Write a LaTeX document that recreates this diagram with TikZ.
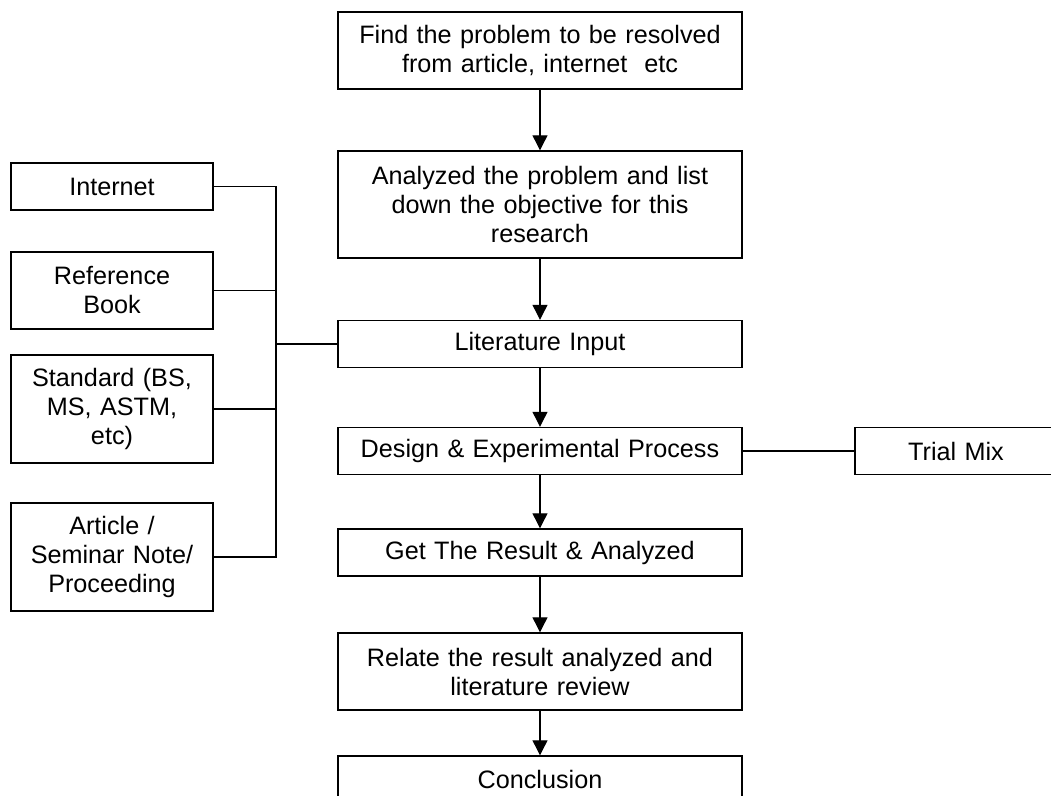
\documentclass[tikz,border=0pt]{standalone}
\usepackage{fontspec}
\setmainfont{Liberation Sans}
\usetikzlibrary{arrows.meta,positioning}
\tikzset{
	box/.style={draw,rectangle,align=center,line width=0.7pt,inner sep=0pt,font=\fontsize{12.6}{14.5}\selectfont},
	mainbox/.style={box,text width=202pt,minimum height=#1},
	sidebox/.style={box,text width=101pt,minimum height=#1},
	>={Triangle[width=7.5pt,length=7.5pt]}
}

\begin{document}
\begin{tikzpicture}[x=0.5pt,y=-0.5pt,line width=0.6pt]
			\useasboundingbox (0,0) rectangle (1051,796);
			\clip (0,0) rectangle (1051,796);
			\node[mainbox=38.5pt] (find) at (540,50.5) {Find the problem to be resolved\\from article, internet\ \ etc};
			\node[mainbox=53.5pt] (anal) at (540,204.5) {Analyzed the problem and list\\down the objective for this\\research};
			\node[mainbox=23.5pt] (lit) at (540,344) {Literature Input};
			\node[mainbox=23.5pt] (des) at (540,451) {Design \& Experimental Process};
			\node[mainbox=23.5pt] (res) at (540,552.5) {Get The Result \& Analyzed};
			\node[mainbox=38.5pt] (rel) at (540,671.5) {Relate the result analyzed and\\literature review};
			\node[mainbox=23.5pt] (con) at (540,779.5) {Conclusion};
			
			\node[sidebox=23.5pt] (inet) at (112,186.5) {Internet};
			\node[sidebox=38.5pt] (book) at (112,290.5) {Reference\\Book};
			\node[sidebox=54pt] (std) at (112,409) {Standard (BS,\\MS, ASTM,\\etc)};
			\node[sidebox=54pt] (art) at (112,557) {Article /\\Seminar Note/\\Proceeding};
			\node[sidebox=23.5pt] (trial) at (956,451) {Trial Mix};
			
			\node[coordinate] (btop) at (276,186.5) {};
			\node[coordinate] (bbot) at (276,557) {};
			\node[coordinate] (blit) at (276,344) {};
			
			\draw (inet) -- (btop) -- (bbot) -- (art);
			\draw (book) -- (book -| btop);
			\draw (std) -- (std -| btop);
			\draw (blit) -- (lit);
			\draw (des) -- (trial);
			
			\draw[->] (find) -- (anal);
			\draw[->] (anal) -- (lit);
			\draw[->] (lit) -- (des);
			\draw[->] (des) -- (res);
			\draw[->] (res) -- (rel);
			\draw[->] (rel) -- (con);
		\end{tikzpicture}
\end{document}
